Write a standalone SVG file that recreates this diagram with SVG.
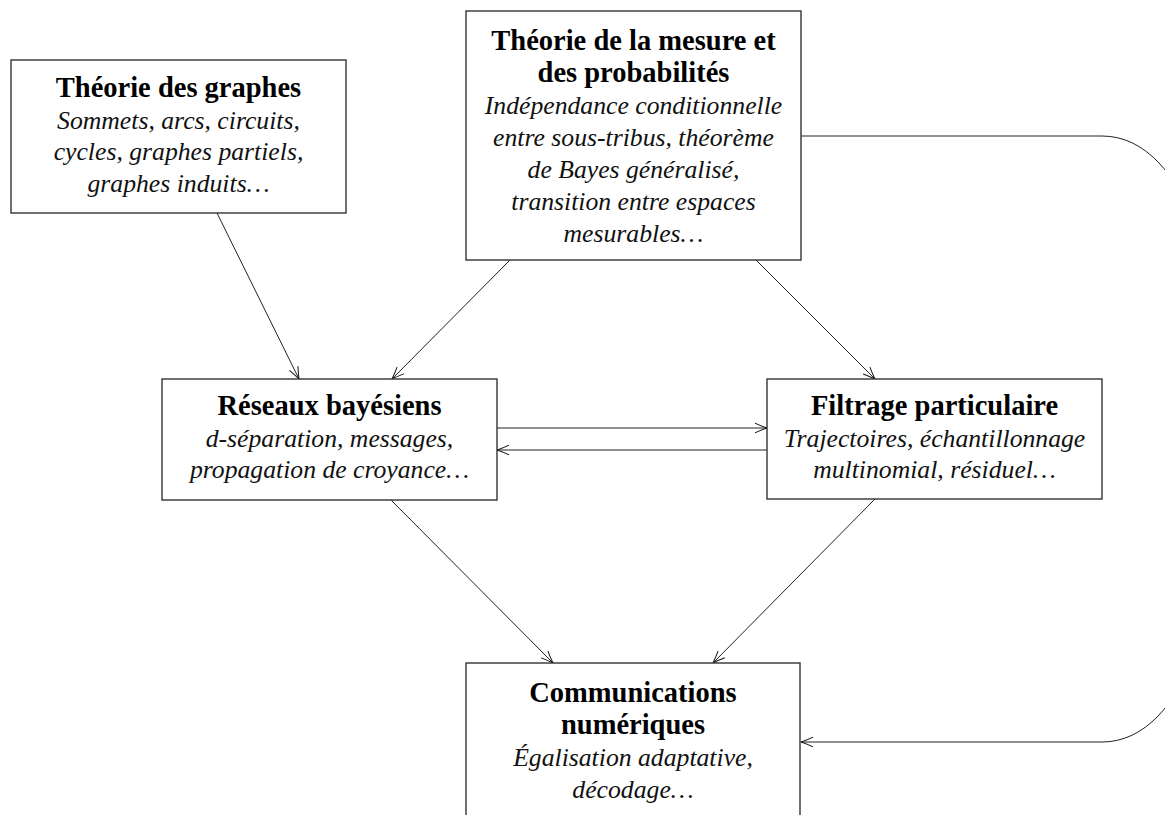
<svg xmlns="http://www.w3.org/2000/svg" width="1165" height="815" viewBox="0 0 1165 815">
<defs>
<style>
.box{fill:#fff;stroke:#333;stroke-width:1.4}
.t{font-family:"Liberation Serif","Times New Roman",serif;font-weight:bold;font-size:28.5px;fill:#000;text-anchor:middle}
.b{font-family:"Liberation Serif","Times New Roman",serif;font-style:italic;font-size:25.7px;fill:#111;text-anchor:middle}
.c{fill:none;stroke:#222;stroke-width:1}
</style>
<marker id="ah" viewBox="0 0 14 12" refX="13" refY="6" markerWidth="14" markerHeight="12" markerUnits="userSpaceOnUse" orient="auto">
<path d="M1,1.2 Q7,4 13,6 Q7,8 1,10.8" fill="none" stroke="#111" stroke-width="1"/>
</marker>
</defs>
<rect width="1165" height="815" fill="#fff"/>
<g id="connectors">
<line class="c" x1="217" y1="213" x2="299" y2="379" marker-end="url(#ah)"/>
<line class="c" x1="510" y1="260" x2="392" y2="379" marker-end="url(#ah)"/>
<line class="c" x1="756" y1="260" x2="875" y2="379" marker-end="url(#ah)"/>
<line class="c" x1="497" y1="428" x2="767" y2="428" marker-end="url(#ah)"/>
<line class="c" x1="767" y1="450" x2="497" y2="450" marker-end="url(#ah)"/>
<line class="c" x1="391" y1="500" x2="553" y2="663" marker-end="url(#ah)"/>
<line class="c" x1="875" y1="499" x2="713" y2="663" marker-end="url(#ah)"/>
<path class="c" d="M801,136 L1102,136 C1273,136 1273,742 1102,742 L801,742" marker-end="url(#ah)"/>
</g>
<g id="n-graphes">
<rect class="box" x="11" y="60" width="335" height="153"/>
<text class="t" x="178.5" y="97">Théorie des graphes</text>
<text class="b" x="178.5" y="128.7">Sommets, arcs, circuits,</text>
<text class="b" x="178.5" y="160.4">cycles, graphes partiels,</text>
<text class="b" x="178.5" y="192">graphes induits…</text>
</g>
<g id="n-mesure">
<rect class="box" x="466" y="11" width="335" height="249"/>
<text class="t" x="633.5" y="50">Théorie de la mesure et</text>
<text class="t" x="633.5" y="82">des probabilités</text>
<text class="b" x="633.5" y="114">Indépendance conditionnelle</text>
<text class="b" x="633.5" y="146">entre sous-tribus, théorème</text>
<text class="b" x="633.5" y="178">de Bayes généralisé,</text>
<text class="b" x="633.5" y="210">transition entre espaces</text>
<text class="b" x="633.5" y="242">mesurables…</text>
</g>
<g id="n-reseaux">
<rect class="box" x="162" y="379" width="335" height="121"/>
<text class="t" x="329.5" y="415">Réseaux bayésiens</text>
<text class="b" x="329.5" y="447">d-séparation, messages,</text>
<text class="b" x="329.5" y="478">propagation de croyance…</text>
</g>
<g id="n-filtrage">
<rect class="box" x="767" y="379" width="335" height="120"/>
<text class="t" x="934.5" y="415">Filtrage particulaire</text>
<text class="b" x="934.5" y="447">Trajectoires, échantillonnage</text>
<text class="b" x="934.5" y="478">multinomial, résiduel…</text>
</g>
<g id="n-comm">
<rect class="box" x="466" y="663" width="334" height="153"/>
<text class="t" x="633" y="702">Communications</text>
<text class="t" x="633" y="734">numériques</text>
<text class="b" x="633" y="766">Égalisation adaptative,</text>
<text class="b" x="633" y="798">décodage…</text>
</g>
</svg>
